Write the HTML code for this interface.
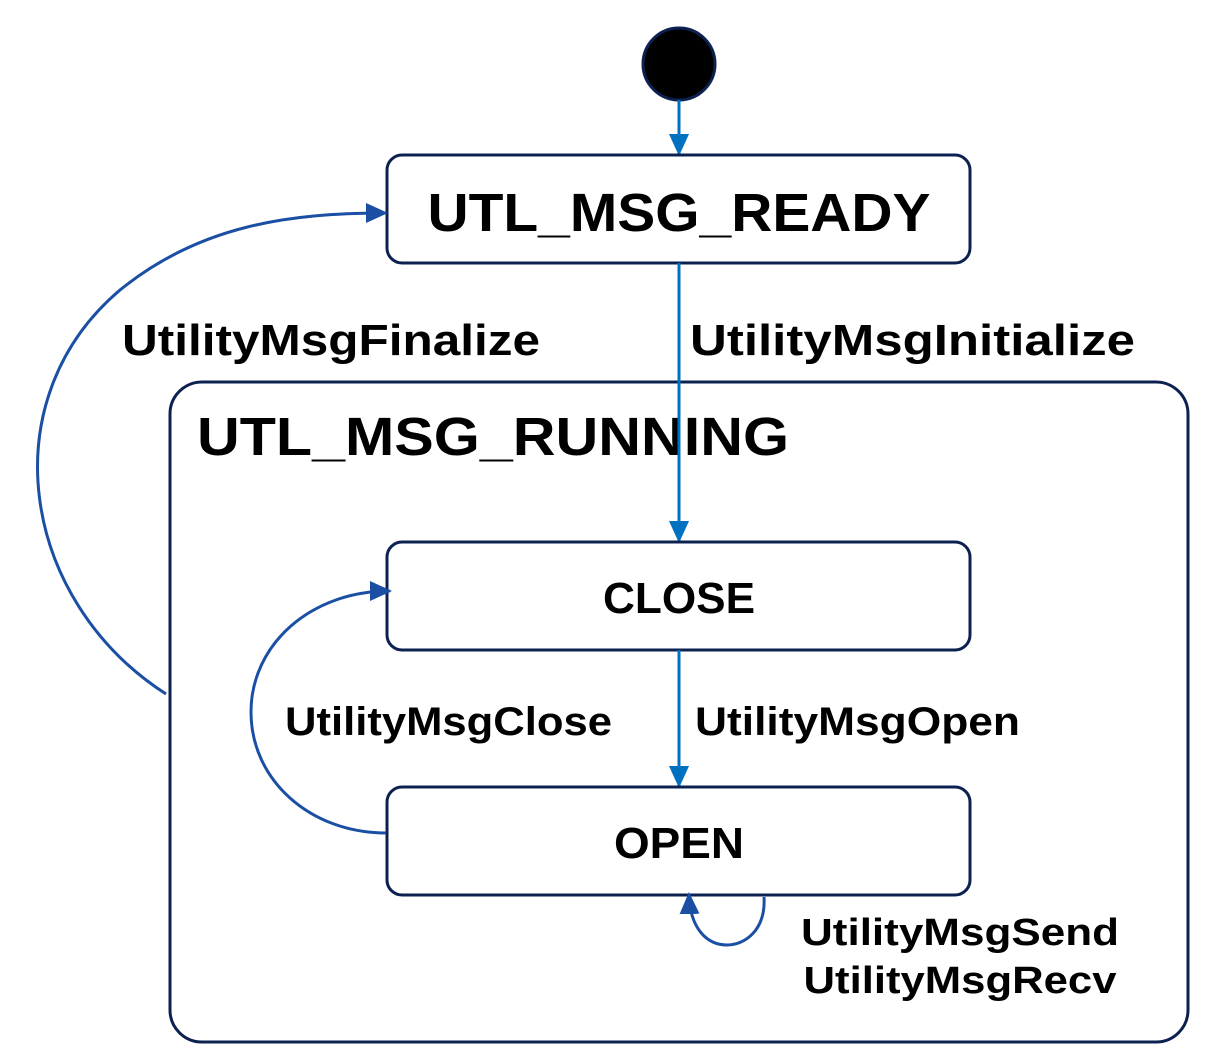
<!DOCTYPE html>
<html><head><meta charset="utf-8"><style>html,body{margin:0;padding:0;background:#fff}svg{display:block}</style></head>
<body>
<svg width="1216" height="1061" viewBox="0 0 1216 1061" xmlns="http://www.w3.org/2000/svg" font-family="Liberation Sans, DejaVu Sans, sans-serif" font-weight="bold">
<defs>
<marker id="a1" markerWidth="10" markerHeight="10" refX="9" refY="5" orient="auto" markerUnits="userSpaceOnUse" viewBox="0 0 10 10"><path d="M0,0 L10,5 L0,10 z" fill="#0070c0"/></marker>
<marker id="a2" markerWidth="22" markerHeight="22" refX="20" refY="11" orient="auto" markerUnits="userSpaceOnUse" viewBox="0 0 22 22"><path d="M0,1 L22,11 L0,21 z" fill="#1a4fa3"/></marker>
<marker id="a3" markerWidth="22" markerHeight="22" refX="20" refY="11" orient="auto" markerUnits="userSpaceOnUse" viewBox="0 0 22 22"><path d="M0,1 L22,11 L0,21 z" fill="#0070c0"/></marker>
</defs>
<circle cx="679" cy="64" r="36" fill="#000" stroke="#0d2150" stroke-width="3"/>
<line x1="679" y1="100" x2="679" y2="154" stroke="#0070c0" stroke-width="3" marker-end="url(#a3)"/>
<rect x="387" y="155" width="583" height="108" rx="15" fill="#fff" stroke="#0d2150" stroke-width="3"/>
<text x="679" y="231" font-size="54" text-anchor="middle" textLength="503" lengthAdjust="spacingAndGlyphs">UTL_MSG_READY</text>
<rect x="170" y="382" width="1018" height="660" rx="32" fill="none" stroke="#0d2150" stroke-width="3"/>
<text x="197" y="455" font-size="54" textLength="592" lengthAdjust="spacingAndGlyphs">UTL_MSG_RUNNING</text>
<line x1="679" y1="263" x2="679" y2="541" stroke="#0070c0" stroke-width="3" marker-end="url(#a3)"/>
<text x="690" y="355" font-size="44" textLength="445" lengthAdjust="spacingAndGlyphs">UtilityMsgInitialize</text>
<path d="M166,694 C20,600 -10,400 120,290 C200,225 290,213 386,213" fill="none" stroke="#1a4fa3" stroke-width="3" marker-end="url(#a2)"/>
<text x="122" y="355" font-size="44" textLength="418" lengthAdjust="spacingAndGlyphs">UtilityMsgFinalize</text>
<rect x="387" y="542" width="583" height="108" rx="15" fill="#fff" stroke="#0d2150" stroke-width="3"/>
<text x="679" y="613" font-size="44" text-anchor="middle" textLength="152" lengthAdjust="spacingAndGlyphs">CLOSE</text>
<line x1="679" y1="650" x2="679" y2="786" stroke="#0070c0" stroke-width="3" marker-end="url(#a3)"/>
<text x="695" y="735" font-size="40" textLength="325" lengthAdjust="spacingAndGlyphs">UtilityMsgOpen</text>
<rect x="387" y="787" width="583" height="108" rx="15" fill="#fff" stroke="#0d2150" stroke-width="3"/>
<text x="679" y="858" font-size="44" text-anchor="middle" textLength="130" lengthAdjust="spacingAndGlyphs">OPEN</text>
<path d="M386,833 C310,833 251,780 251,712 C251,645 310,591 390,591" fill="none" stroke="#1a4fa3" stroke-width="3" marker-end="url(#a2)"/>
<text x="285" y="735" font-size="40" textLength="327" lengthAdjust="spacingAndGlyphs">UtilityMsgClose</text>
<path d="M764,897 C766,930 745,945 727,945 C708,945 690,930 689,894" fill="none" stroke="#1a4fa3" stroke-width="3" marker-end="url(#a2)"/>
<text x="960" y="945" font-size="38" text-anchor="middle" textLength="318" lengthAdjust="spacingAndGlyphs">UtilityMsgSend</text>
<text x="960" y="993" font-size="38" text-anchor="middle" textLength="313" lengthAdjust="spacingAndGlyphs">UtilityMsgRecv</text>
</svg>
</body></html>
